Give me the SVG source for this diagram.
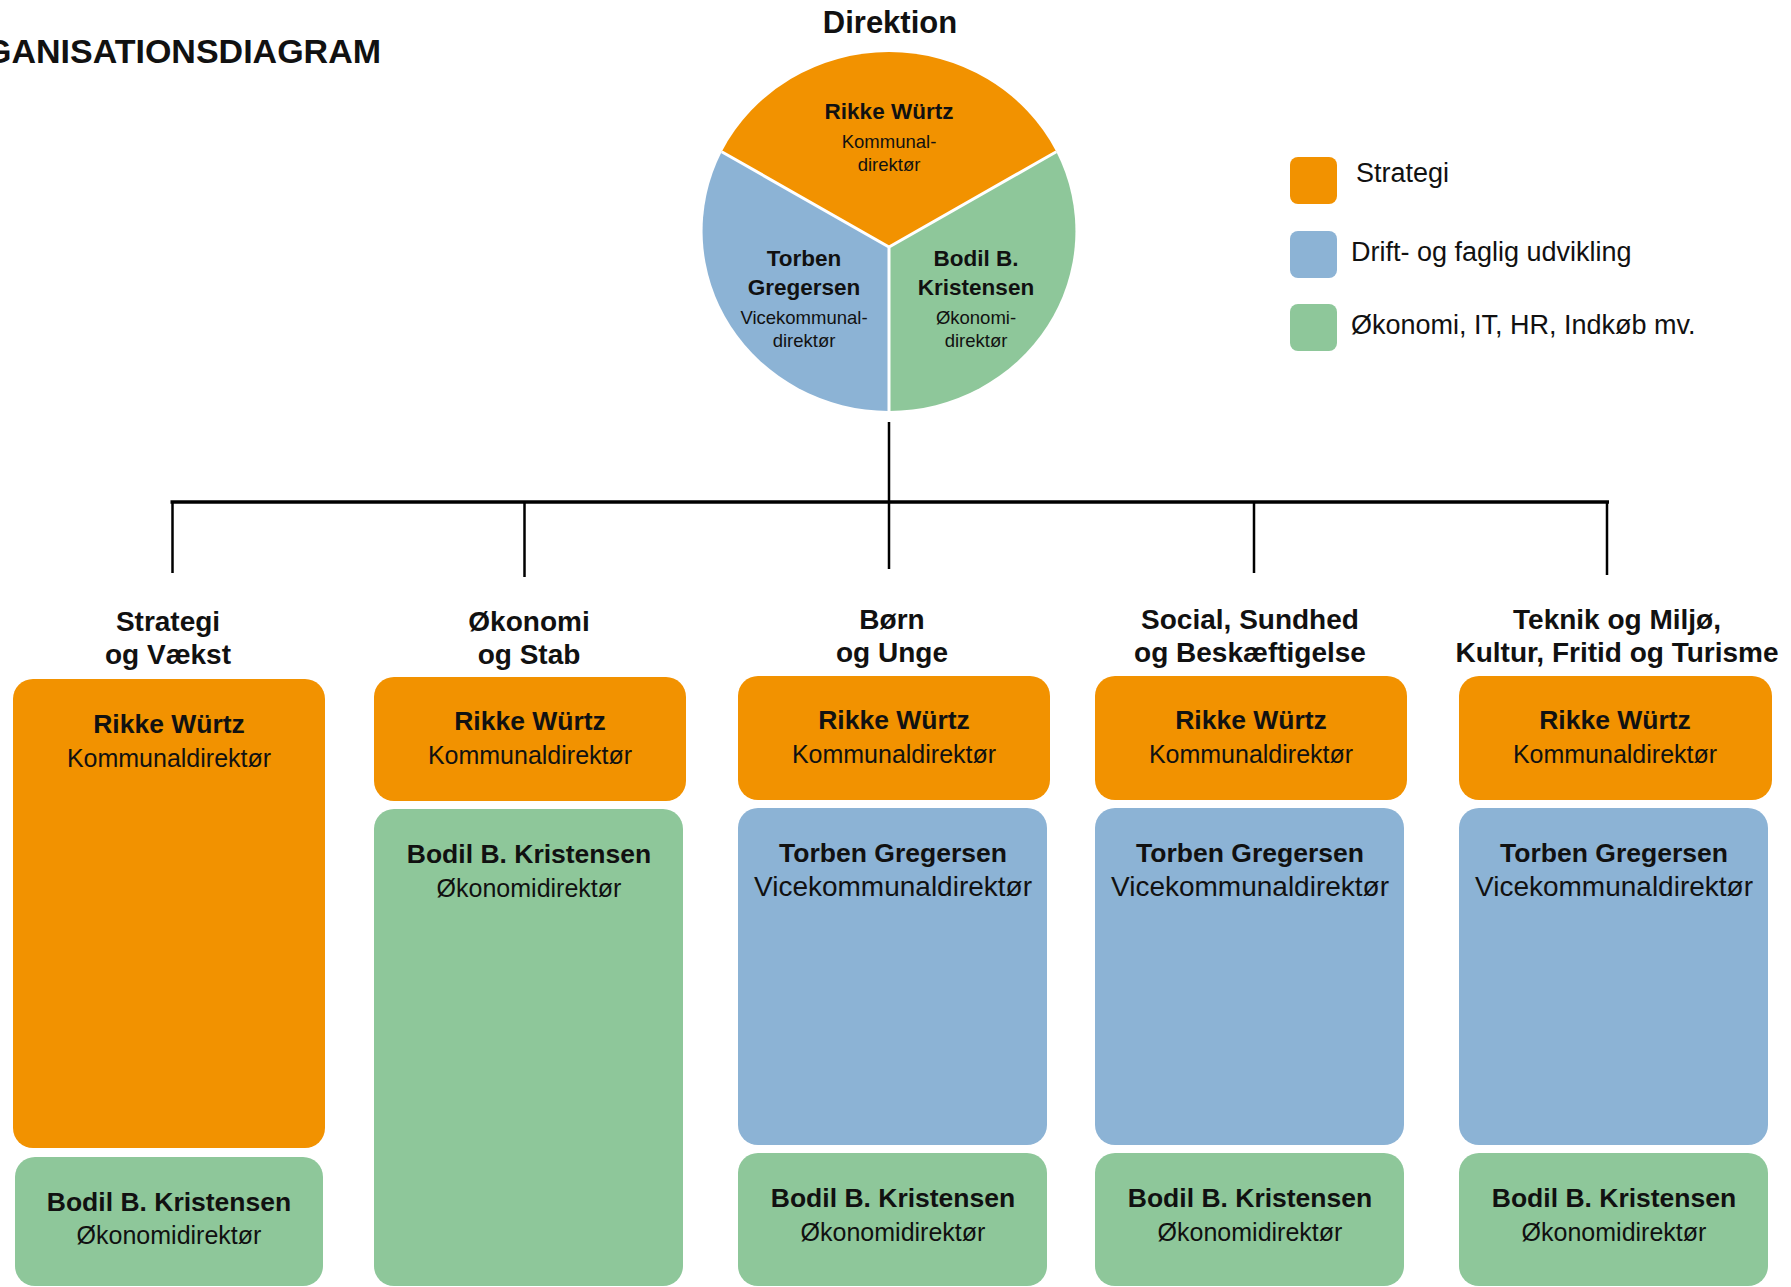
<svg xmlns="http://www.w3.org/2000/svg" width="1791" height="1287" viewBox="0 0 1791 1287">
<style>
text{font-family:"Liberation Sans",Arial,sans-serif;fill:#111;text-anchor:middle}
.title{font-size:34px;font-weight:bold;text-anchor:start}
.head{font-size:28px;font-weight:bold}
.name{font-size:26.5px;font-weight:bold}
.role{font-size:25px}
.vrole{font-size:28px}
.pname{font-size:22.5px;font-weight:bold}
.prole{font-size:18.5px}
.leg{font-size:27px;text-anchor:start}
.or{fill:#F29200}
.bl{fill:#8CB3D5}
.gr{fill:#8EC79A}
.sep{stroke:#fff;stroke-width:3;fill:none}
.conn{stroke:#000;fill:none}
</style>
<rect width="1791" height="1287" fill="#fff"/>
<text class="title" x="-15" y="63">GANISATIONSDIAGRAM</text>

<g id="direktion">
<text x="890" y="33" style="font-size:31px;font-weight:bold">Direktion</text>
<path class="or" d="M889 247 L721.7 151.7 A187 180 0 0 1 1056.3 151.7 Z"/>
<path class="bl" d="M889 247 L889 411 A187 180 0 0 1 721.7 151.7 Z"/>
<path class="gr" d="M889 247 L1056.3 151.7 A187 180 0 0 1 889 411 Z"/>
<path class="sep" d="M721.7 151.7 L889 247 L1056.3 151.7 M889 247 L889 412"/>
<text class="pname" x="889" y="119">Rikke Würtz</text>
<text class="prole" x="889" y="148">Kommunal-</text>
<text class="prole" x="889" y="171">direktør</text>
<text class="pname" x="804" y="266">Torben</text>
<text class="pname" x="804" y="295">Gregersen</text>
<text class="prole" x="804" y="324">Vicekommunal-</text>
<text class="prole" x="804" y="347">direktør</text>
<text class="pname" x="976" y="266">Bodil B.</text>
<text class="pname" x="976" y="295">Kristensen</text>
<text class="prole" x="976" y="324">Økonomi-</text>
<text class="prole" x="976" y="347">direktør</text>
</g>

<g id="legend">
<rect class="or" x="1290" y="157" width="47" height="47" rx="8"/>
<rect class="bl" x="1290" y="231" width="47" height="47" rx="8"/>
<rect class="gr" x="1290" y="304" width="47" height="47" rx="8"/>
<text class="leg" x="1356" y="182">Strategi</text>
<text class="leg" x="1351" y="261">Drift- og faglig udvikling</text>
<text class="leg" x="1351" y="334">Økonomi, IT, HR, Indkøb mv.</text>
</g>

<g id="connectors">
<path class="conn" stroke-width="3.5" d="M170.5 502 L1609 502"/>
<path class="conn" stroke-width="2.5" d="M889 422 L889 569 M172.5 502 L172.5 573 M524.5 502 L524.5 577 M1254 502 L1254 573 M1607 502 L1607 575"/>
</g>

<g id="col-strategi">
<text class="head" x="168" y="631">Strategi</text>
<text class="head" x="168" y="664">og Vækst</text>
<rect class="or" x="13" y="679" width="312" height="469" rx="20"/>
<text class="name" x="169" y="733">Rikke Würtz</text>
<text class="role" x="169" y="767">Kommunaldirektør</text>
<rect class="gr" x="15" y="1157" width="308" height="129" rx="20"/>
<text class="name" x="169" y="1211">Bodil B. Kristensen</text>
<text class="role" x="169" y="1244">Økonomidirektør</text>
</g>

<g id="col-oekonomi">
<text class="head" x="529" y="631">Økonomi</text>
<text class="head" x="529" y="664">og Stab</text>
<rect class="or" x="374" y="677" width="312" height="124" rx="20"/>
<text class="name" x="530" y="730">Rikke Würtz</text>
<text class="role" x="530" y="764">Kommunaldirektør</text>
<rect class="gr" x="374" y="809" width="309" height="477" rx="20"/>
<text class="name" x="529" y="863">Bodil B. Kristensen</text>
<text class="role" x="529" y="897">Økonomidirektør</text>
</g>

<g id="col-boern">
<text class="head" x="892" y="629">Børn</text>
<text class="head" x="892" y="662">og Unge</text>
<rect class="or" x="738" y="676" width="312" height="124" rx="20"/>
<text class="name" x="894" y="729">Rikke Würtz</text>
<text class="role" x="894" y="763">Kommunaldirektør</text>
<rect class="bl" x="738" y="808" width="309" height="337" rx="20"/>
<text class="name" x="893" y="862">Torben Gregersen</text>
<text class="vrole" x="893" y="896">Vicekommunaldirektør</text>
<rect class="gr" x="738" y="1153" width="309" height="133" rx="20"/>
<text class="name" x="893" y="1207">Bodil B. Kristensen</text>
<text class="role" x="893" y="1241">Økonomidirektør</text>
</g>

<g id="col-social">
<text class="head" x="1250" y="629">Social, Sundhed</text>
<text class="head" x="1250" y="662">og Beskæftigelse</text>
<rect class="or" x="1095" y="676" width="312" height="124" rx="20"/>
<text class="name" x="1251" y="729">Rikke Würtz</text>
<text class="role" x="1251" y="763">Kommunaldirektør</text>
<rect class="bl" x="1095" y="808" width="309" height="337" rx="20"/>
<text class="name" x="1250" y="862">Torben Gregersen</text>
<text class="vrole" x="1250" y="896">Vicekommunaldirektør</text>
<rect class="gr" x="1095" y="1153" width="309" height="133" rx="20"/>
<text class="name" x="1250" y="1207">Bodil B. Kristensen</text>
<text class="role" x="1250" y="1241">Økonomidirektør</text>
</g>

<g id="col-teknik">
<text class="head" x="1617" y="629">Teknik og Miljø,</text>
<text class="head" x="1617" y="662">Kultur, Fritid og Turisme</text>
<rect class="or" x="1459" y="676" width="313" height="124" rx="20"/>
<text class="name" x="1615" y="729">Rikke Würtz</text>
<text class="role" x="1615" y="763">Kommunaldirektør</text>
<rect class="bl" x="1459" y="808" width="309" height="337" rx="20"/>
<text class="name" x="1614" y="862">Torben Gregersen</text>
<text class="vrole" x="1614" y="896">Vicekommunaldirektør</text>
<rect class="gr" x="1459" y="1153" width="309" height="133" rx="20"/>
<text class="name" x="1614" y="1207">Bodil B. Kristensen</text>
<text class="role" x="1614" y="1241">Økonomidirektør</text>
</g>
</svg>
